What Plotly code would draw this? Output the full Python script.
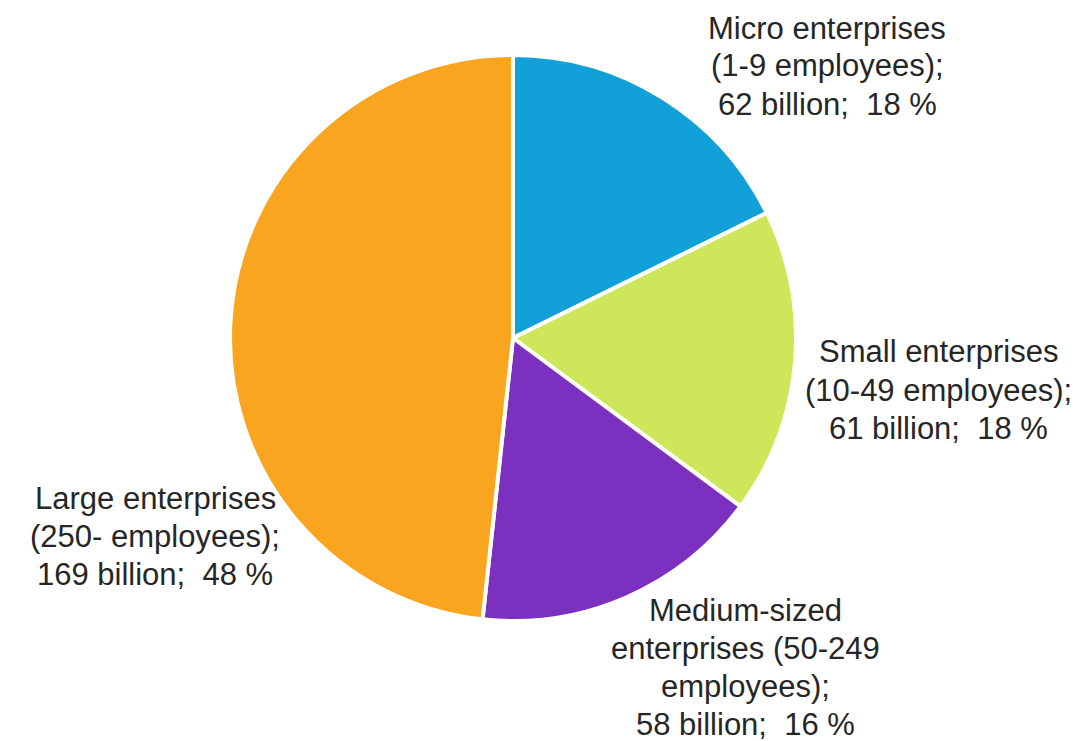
import plotly.graph_objects as go

categories = [
    "Micro enterprises (1-9 employees)",
    "Small enterprises (10-49 employees)",
    "Medium-sized enterprises (50-249 employees)",
    "Large enterprises (250- employees)",
]
values = [62, 61, 58, 169]
label_lines = [
    ["Micro enterprises", "(1-9 employees);", "62 billion;  18 %"],
    ["Small enterprises", "(10-49 employees);", "61 billion;  18 %"],
    ["Medium-sized", "enterprises (50-249", "employees);", "58 billion;  16 %"],
    ["Large enterprises", "(250- employees);", "169 billion;  48 %"],
]
colors = ["#12A0D8", "#CDE65A", "#7C30BF", "#F9A51F"]

W, H = 1079, 741
cx, cy, r = 505, 330, 283

fig = go.Figure(go.Pie(
    labels=categories,
    values=values,
    sort=False,
    direction="clockwise",
    rotation=0,
    marker=dict(colors=colors, line=dict(color="white", width=4)),
    textinfo="none",
    hoverinfo="label+value+percent",
    showlegend=False,
    domain=dict(x=[(cx - r) / W, (cx + r) / W], y=[1 - (cy + r) / H, 1 - (cy - r) / H]),
))

# label block: center x and first-line y (pixels), line step
label_pos = [(819, 20), (930, 344), (737, 602), (147, 490)]
step = 38
for lines, (px, py) in zip(label_lines, label_pos):
    for i, line in enumerate(lines):
        fig.add_annotation(
            text=line, x=px / W, y=1 - (py + i * step) / H, xref="paper", yref="paper",
            xanchor="center", yanchor="middle", showarrow=False, align="center",
            borderpad=0,
            font=dict(family="Liberation Sans, Arial, sans-serif", size=31, color="#262626"),
        )

fig.update_layout(
    width=W, height=H,
    margin=dict(l=0, r=0, t=0, b=0),
    paper_bgcolor="white", plot_bgcolor="white",
)

fig.write_html("out.html")
